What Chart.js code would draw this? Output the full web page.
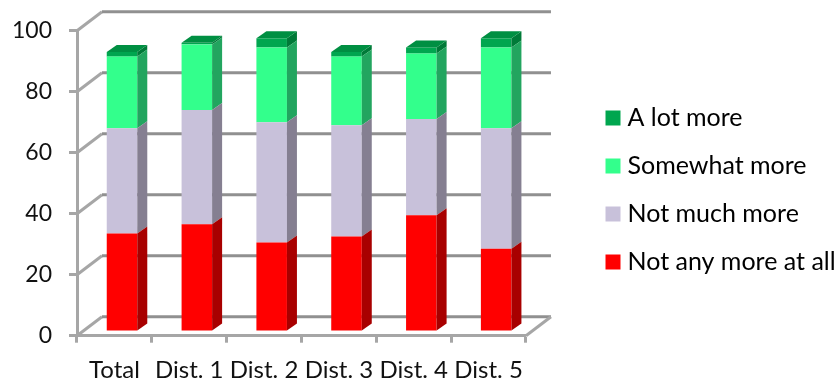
<!DOCTYPE html>
<html>
<head>
<meta charset="utf-8">
<style>html,body{margin:0;padding:0;background:#fff}canvas{display:block}</style>
<script src="https://cdn.jsdelivr.net/npm/chart.js@4"></script>
</head>
<body>
<canvas id="c" width="839" height="383"></canvas>
<script>
const categories = ['Total', 'Dist. 1', 'Dist. 2', 'Dist. 3', 'Dist. 4', 'Dist. 5'];
const notAnyMore = [32, 35, 29, 31, 38, 27];
const notMuchMore = [34.5, 37.5, 39.5, 36.5, 31.5, 39.5];
const somewhatMore = [23.5, 21.5, 24.5, 22.5, 21.5, 26.5];
const aLotMore = [1.5, 0.5, 3, 1.5, 2, 3];
const yTicks = [0, 20, 40, 60, 80, 100];

const FONT = 'Lato, Carlito, sans-serif';
const AXIS = '#a6a6a6';
const WALL = '#909090';

// Oblique projection: wall depth, bar placement on the floor, bar depth
const WALL_DX = 25, WALL_DY = -19;
const BAR_DX = 7.6, BAR_DY = -4.7;
const SIDE_DX = 10, SIDE_DY = -7;

function face(ctx, pts, color) {
  ctx.beginPath();
  pts.forEach((p, i) => i ? ctx.lineTo(p[0], p[1]) : ctx.moveTo(p[0], p[1]));
  ctx.closePath();
  ctx.fillStyle = color;
  ctx.fill();
}

const wallPlugin = {
  id: 'wall',
  beforeDatasetsDraw(chart) {
    const { ctx, scales: { x, y } } = chart;
    const left = x.left, right = x.right;
    ctx.save();
    ctx.lineWidth = 3;
    yTicks.forEach(v => {
      const py = y.getPixelForValue(v);
      ctx.strokeStyle = AXIS;
      ctx.beginPath();
      ctx.moveTo(left, py);
      ctx.lineTo(left + WALL_DX, py + WALL_DY);
      ctx.stroke();
      ctx.strokeStyle = WALL;
      ctx.beginPath();
      ctx.moveTo(left + WALL_DX, py + WALL_DY);
      ctx.lineTo(right + WALL_DX, py + WALL_DY);
      ctx.stroke();
    });
    // Right edge of the floor
    const p0 = y.getPixelForValue(0);
    ctx.strokeStyle = AXIS;
    ctx.beginPath();
    ctx.moveTo(right, p0);
    ctx.lineTo(right + WALL_DX, p0 + WALL_DY);
    ctx.stroke();
    ctx.restore();
  },
  // Bars stand back from the front axis on the floor
  beforeDatasetDraw(chart) {
    chart.ctx.save();
    chart.ctx.translate(BAR_DX, BAR_DY);
  },
  afterDatasetDraw(chart, args) {
    const ctx = chart.ctx;
    const ds = chart.data.datasets[args.index];
    args.meta.data.forEach(bar => {
      const r = bar.x + bar.width / 2;
      const l = bar.x - bar.width / 2;
      face(ctx, [[r, bar.y], [r + SIDE_DX, bar.y + SIDE_DY], [r + SIDE_DX, bar.base + SIDE_DY], [r, bar.base]], ds.sideColor);
      if (ds.topColor) {
        face(ctx, [[l, bar.y], [l + SIDE_DX, bar.y + SIDE_DY], [r + SIDE_DX, bar.y + SIDE_DY], [r, bar.y]], ds.topColor);
      }
    });
    ctx.restore();
  },
  // Place the legend column clear of the plot and let it run to the page edge
  afterLayout(chart) {
    const lg = chart.legend;
    lg.left = 588;
    lg.right = 839;
    lg.top = -3;
    lg.bottom = 383;
  }
};

new Chart(document.getElementById('c'), {
  type: 'bar',
  data: {
    labels: categories,
    datasets: [
      { label: 'Not any more at all', data: notAnyMore, backgroundColor: '#ff0000', sideColor: '#a80000' },
      { label: 'Not much more', data: notMuchMore, backgroundColor: '#c8c1da', sideColor: '#857f91' },
      { label: 'Somewhat more', data: somewhatMore, backgroundColor: '#33ff8c', sideColor: '#22a55f' },
      { label: 'A lot more', data: aLotMore, backgroundColor: '#00a64f', sideColor: '#007a38', topColor: '#008f42' }
    ].map(d => Object.assign(d, { barPercentage: 0.408, categoryPercentage: 1, clip: false }))
  },
  options: {
    responsive: false,
    animation: false,
    layout: { padding: { left: 0, top: 28.7, right: 137.7, bottom: 0 } },
    plugins: {
      tooltip: { enabled: false },
      legend: {
        position: 'right',
        reverse: true,
        labels: {
          boxWidth: 4,
          boxHeight: 4,
          padding: 23,
          color: '#111',
          font: { family: FONT, size: 25 },
          generateLabels(chart) {
            return chart.data.datasets.map((d, i) => ({
              text: d.label,
              fillStyle: d.backgroundColor,
              strokeStyle: d.backgroundColor,
              lineWidth: 11,
              datasetIndex: i
            }));
          }
        }
      }
    },
    scales: {
      x: {
        stacked: true,
        afterFit(s) { s.height = 47.3; },
        border: { color: AXIS, width: 3 },
        grid: { drawOnChartArea: false, color: AXIS, tickColor: AXIS, tickLength: 7, tickWidth: 3, offset: true },
        ticks: { color: '#111', padding: 13, maxRotation: 0, autoSkip: false, font: { family: FONT, size: 24 } }
      },
      y: {
        stacked: true,
        min: 0,
        max: 100,
        afterFit(s) { s.width = 77; },
        afterBuildTicks(s) { s.ticks = yTicks.map(v => ({ value: v })); },
        border: { color: AXIS, width: 3 },
        grid: { drawOnChartArea: false, color: AXIS, tickColor: AXIS, tickLength: 8, tickWidth: 3 },
        ticks: { color: '#111', padding: 17, font: { family: FONT, size: 23 } }
      }
    }
  },
  plugins: [wallPlugin]
});
</script>
</body>
</html>
